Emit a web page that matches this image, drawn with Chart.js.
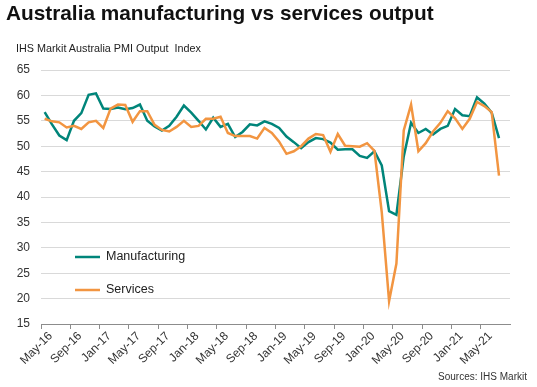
<!DOCTYPE html>
<html>
<head>
<meta charset="utf-8">
<script src="https://cdn.jsdelivr.net/npm/chart.js@4.4.1/dist/chart.umd.min.js"></script>
<style>
  body { margin: 0; background: #fff; font-family: "Liberation Sans", Arial, sans-serif; }
  #wrap { position: relative; width: 537px; height: 387px; overflow: hidden; }
  #title { position: absolute; left: 6px; top: 1px; font-size: 20.8px; font-weight: bold; color: #111; white-space: nowrap; }
  #subtitle { position: absolute; left: 16px; top: 42px; font-size: 10.8px; color: #222; white-space: nowrap; }
  #source { position: absolute; right: 10px; top: 371px; font-size: 10px; color: #333; white-space: nowrap; }
  canvas { position: absolute; left: 0; top: 0; }
</style>
</head>
<body>
<div id="wrap">
  <canvas id="chart" width="537" height="387"></canvas>
  <div id="title">Australia manufacturing vs services output</div>
  <div id="subtitle">IHS Markit Australia PMI Output&nbsp; Index</div>
  <div id="source">Sources: IHS Markit</div>
</div>
<script>
// monthly categories, May-16 .. Aug-21
const months = [
  "May-16", "Jun-16", "Jul-16", "Aug-16", "Sep-16", "Oct-16", "Nov-16", "Dec-16",
  "Jan-17", "Feb-17", "Mar-17", "Apr-17", "May-17", "Jun-17", "Jul-17", "Aug-17",
  "Sep-17", "Oct-17", "Nov-17", "Dec-17", "Jan-18", "Feb-18", "Mar-18", "Apr-18",
  "May-18", "Jun-18", "Jul-18", "Aug-18", "Sep-18", "Oct-18", "Nov-18", "Dec-18",
  "Jan-19", "Feb-19", "Mar-19", "Apr-19", "May-19", "Jun-19", "Jul-19", "Aug-19",
  "Sep-19", "Oct-19", "Nov-19", "Dec-19", "Jan-20", "Feb-20", "Mar-20", "Apr-20",
  "May-20", "Jun-20", "Jul-20", "Aug-20", "Sep-20", "Oct-20", "Nov-20", "Dec-20",
  "Jan-21", "Feb-21", "Mar-21", "Apr-21", "May-21", "Jun-21", "Jul-21", "Aug-21",
];

const manufacturing = [
  56.7, 54.3, 52.1, 51.2, 55.0, 56.5, 60.1, 60.4,
  57.4, 57.3, 57.6, 57.3, 57.5, 58.2, 55.0, 53.9,
  53.1, 54.0, 55.8, 58.0, 56.6, 55.0, 53.3, 55.6,
  53.8, 54.4, 51.8, 52.8, 54.3, 54.1, 54.9, 54.4,
  53.6, 51.9, 50.8, 49.6, 50.8, 51.6, 51.4, 50.7,
  49.3, 49.4, 49.4, 48.1, 47.7, 49.0, 46.2, 37.2,
  36.5, 48.0, 54.6, 52.6, 53.4, 52.3, 53.4, 54.0,
  57.3, 56.1, 55.9, 59.6, 58.4, 56.6, 51.6, null,
];

const services = [
  55.4, 54.9, 54.7, 53.7, 54.0, 53.4, 54.7, 55.0,
  53.6, 57.4, 58.2, 58.1, 54.8, 56.9, 56.9, 54.2,
  53.2, 52.9, 53.8, 55.0, 53.8, 54.0, 55.4, 55.4,
  55.8, 52.6, 52.0, 52.0, 52.0, 51.5, 53.6, 52.6,
  50.9, 48.5, 49.0, 50.0, 51.5, 52.4, 52.2, 48.9,
  52.4, 50.1, 50.0, 49.9, 50.6, 49.1, 37.0, 19.5,
  26.9, 53.1, 58.2, 49.0, 50.6, 52.9, 54.6, 56.9,
  55.5, 53.4, 55.4, 58.7, 57.9, 56.7, 44.2, null,
];

const yTicks = [15, 20, 25, 30, 35, 40, 45, 50, 55, 60, 65];

const green = "#00857a";
const orange = "#f29541";
const font = "'Liberation Sans', Arial, sans-serif";

// legend drawn inside the plot, like the original
const insideLegend = {
  id: "insideLegend",
  afterDraw(chart) {
    const ctx = chart.ctx;
    const rows = [
      { ds: chart.data.datasets[0], y: 257 },
      { ds: chart.data.datasets[1], y: 290 },
    ];
    ctx.save();
    ctx.font = "12.5px " + font;
    ctx.textBaseline = "middle";
    rows.forEach((r) => {
      ctx.strokeStyle = r.ds.borderColor;
      ctx.lineWidth = 2.5;
      ctx.beginPath();
      ctx.moveTo(75, r.y);
      ctx.lineTo(100, r.y);
      ctx.stroke();
      ctx.fillStyle = "#222";
      ctx.fillText(r.ds.label, 106, r.y);
    });
    ctx.restore();
  },
};

new Chart(document.getElementById("chart"), {
  type: "line",
  data: {
    labels: months,
    datasets: [
      {
        label: "Manufacturing",
        data: manufacturing,
        borderColor: green,
        borderWidth: 2.5,
        pointRadius: 0,
        tension: 0,
        order: 1,
      },
      {
        label: "Services",
        data: services,
        borderColor: orange,
        borderWidth: 2.5,
        pointRadius: 0,
        tension: 0,
        order: 0,
      },
    ],
  },
  options: {
    responsive: false,
    animation: false,
    devicePixelRatio: 1,
    layout: { padding: { top: 70, right: 27, left: 0, bottom: 0 } },
    plugins: {
      legend: { display: false },
      tooltip: { enabled: false },
    },
    scales: {
      x: {
        offset: true,
        afterFit: (scale) => {
          scale.height = 63;
        },
        grid: {
          offset: true,
          drawOnChartArea: false,
          tickLength: 5,
          color: (c) => (c.index % 4 === 0 ? "#8c8c8c" : "rgba(0,0,0,0)"),
        },
        border: { display: true, color: "#8c8c8c", width: 1 },
        ticks: {
          autoSkip: false,
          minRotation: 45,
          maxRotation: 45,
          padding: 0,
          labelOffset: 6,
          color: "#333",
          font: { family: font, size: 12 },
          callback: (v, i) => (i % 4 === 0 ? months[i] : ""),
        },
      },
      y: {
        min: yTicks[0],
        max: yTicks[yTicks.length - 1],
        afterFit: (scale) => {
          scale.width = 41;
        },
        afterBuildTicks: (scale) => {
          scale.ticks = yTicks.map((v) => ({ value: v }));
        },
        grid: { color: "#d9d9d9", lineWidth: 1, drawTicks: false },
        border: { display: false },
        ticks: {
          padding: 11,
          color: "#333",
          font: { family: font, size: 12 },
        },
      },
    },
  },
  plugins: [insideLegend],
});
</script>
</body>
</html>
